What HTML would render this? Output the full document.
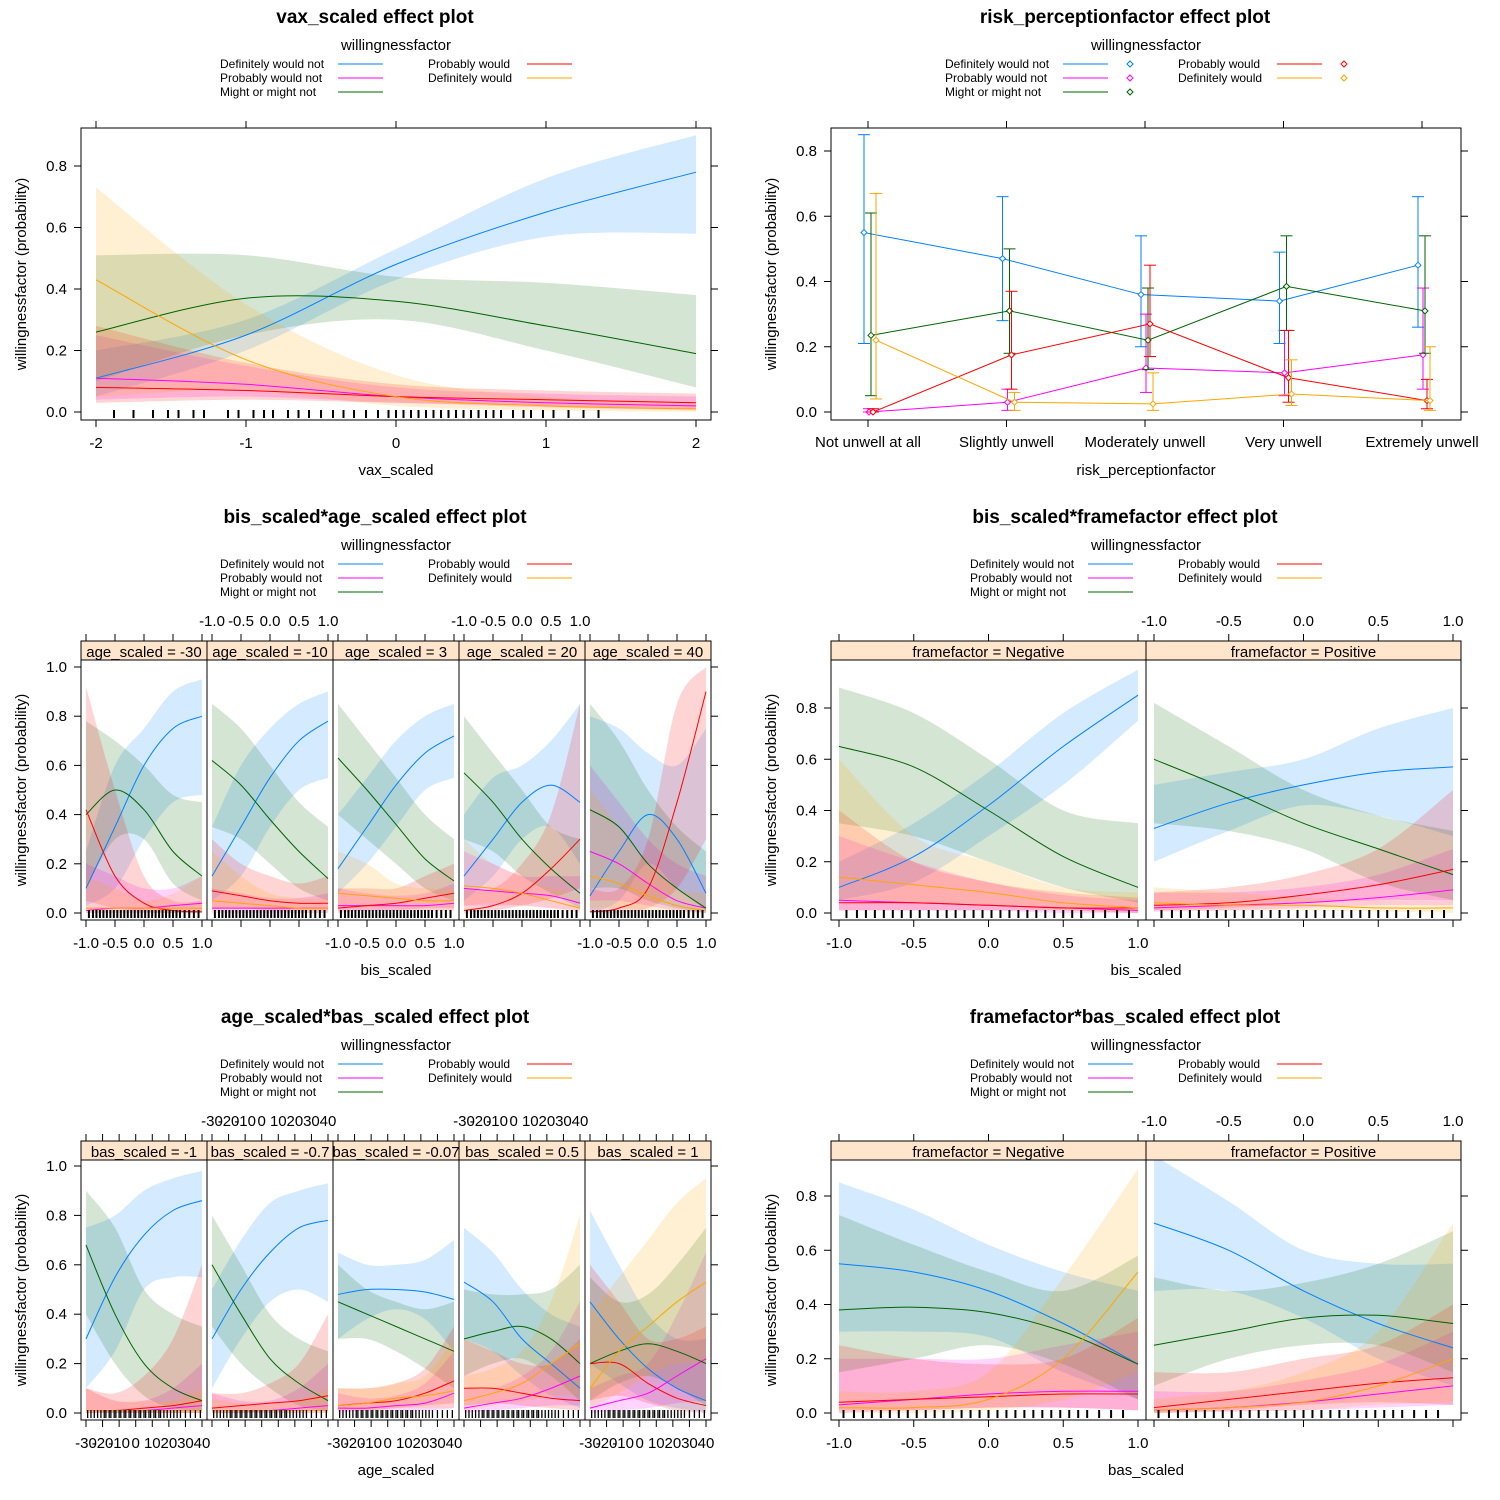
<!DOCTYPE html>
<html><head><meta charset="utf-8"><style>
html,body{margin:0;padding:0;background:#fff}
svg{display:block;font-family:"Liberation Sans",Arial,sans-serif}
</style></head><body>
<svg id="c" width="1500" height="1500" xmlns="http://www.w3.org/2000/svg"></svg>
<script>
const seriesNames=['Definitely would not','Probably would not','Might or might not','Probably would','Definitely would'];
const seriesColors=['#0080ff','#ff00ff','#006400','#ff0000','#ffa500'];

const vaxSamples=[-2,-1,0,1,2];
const vaxFit=[[.11,.25,.48,.65,.78],[.11,.09,.05,.03,.02],[.26,.37,.36,.28,.19],[.08,.07,.05,.04,.03],[.43,.17,.05,.02,.01]];
const vaxLo=[[.05,.2,.43,.57,.58],[.04,.05,.03,.015,.005],[.1,.25,.3,.2,.08],[.03,.04,.03,.02,.01],[.05,.07,.02,.005,0]];
const vaxHi=[[.2,.3,.53,.76,.9],[.25,.15,.08,.06,.05],[.51,.51,.44,.42,.38],[.28,.16,.09,.07,.06],[.73,.35,.12,.05,.03]];
const vaxRug=[-1.88,-1.75,-1.62,-1.52,-1.45,-1.35,-1.28,-1.12,-1.05,-.95,-.88,-.82,-.72,-.65,-.58,-.5,-.42,-.35,-.28,-.2,-.12,-.05,0,.05,.1,.15,.2,.25,.3,.35,.4,.45,.5,.55,.6,.65,.7,.78,.85,.9,.98,1.05,1.15,1.25,1.35];

const riskCats=['Not unwell at all','Slightly unwell','Moderately unwell','Very unwell','Extremely unwell'];
const riskFit=[[.55,.47,.36,.34,.45],[0,.03,.135,.12,.175],[.235,.31,.22,.385,.31],[0,.175,.27,.105,.035],[.22,.03,.025,.055,.035]];
const riskLo=[[.21,.28,.2,.21,.26],[0,.005,.06,.05,.07],[.05,.18,.13,.25,.18],[0,.07,.17,.03,.01],[.04,.005,.005,.02,.005]];
const riskHi=[[.85,.66,.54,.49,.66],[.01,.07,.3,.25,.38],[.61,.5,.38,.54,.54],[.01,.37,.45,.25,.1],[.67,.06,.12,.16,.2]];

const bisSamples=[-1,-.5,0,.5,1];
const bisRug=[-.95,-.88,-.82,-.76,-.7,-.64,-.58,-.52,-.46,-.4,-.34,-.28,-.22,-.16,-.1,-.04,.02,.08,.14,.2,.26,.32,.38,.44,.5,.56,.62,.7,.78,.86,.94];
const ageStrips=['age_scaled = -30','age_scaled = -10','age_scaled = 3','age_scaled = 20','age_scaled = 40'];
const ba1Fit=[[.1,.35,.6,.75,.8],[.01,.02,.02,.03,.04],[.4,.5,.42,.25,.15],[.42,.15,.04,.01,.005],[.02,.02,.02,.02,.02]];
const ba1Lo=[[.03,.1,.3,.45,.48],[0,0,0,0,0],[.1,.3,.3,.12,.05],[.05,.02,.005,0,0],[0,0,0,0,0]];
const ba1Hi=[[.25,.6,.75,.9,.95],[.2,.15,.1,.1,.15],[.78,.7,.6,.48,.45],[.92,.5,.15,.05,.05],[.15,.1,.05,.08,.15]];
const ba2Fit=[[.15,.35,.55,.7,.78],[.02,.02,.02,.02,.02],[.62,.52,.38,.25,.14],[.09,.07,.05,.04,.04],[.05,.04,.03,.02,.02]];
const ba2Lo=[[.05,.15,.35,.5,.55],[0,0,0,0,0],[.35,.3,.2,.1,.05],[.02,.02,.01,.01,.01],[.01,.01,.01,0,0]];
const ba2Hi=[[.35,.6,.75,.85,.9],[.1,.08,.06,.06,.08],[.85,.75,.6,.45,.35],[.3,.2,.15,.12,.15],[.25,.15,.08,.06,.06]];
const ba3Fit=[[.18,.35,.52,.65,.72],[.03,.03,.03,.03,.04],[.63,.5,.36,.22,.13],[.02,.03,.04,.06,.08],[.08,.07,.06,.05,.05]];
const ba3Lo=[[.08,.2,.35,.5,.55],[.01,.01,.01,.01,.01],[.4,.3,.2,.1,.05],[0,.01,.01,.02,.02],[.02,.02,.02,.01,.01]];
const ba3Hi=[[.4,.55,.7,.8,.85],[.1,.08,.07,.08,.12],[.85,.7,.55,.4,.3],[.1,.1,.1,.15,.2],[.25,.2,.12,.1,.1]];
const ba4Fit=[[.15,.3,.45,.52,.45],[.1,.09,.08,.07,.04],[.57,.45,.3,.18,.08],[.01,.03,.08,.18,.3],[.11,.1,.08,.05,.02]];
const ba4Lo=[[.05,.15,.3,.35,.2],[.03,.03,.03,.02,.01],[.3,.25,.15,.08,.02],[0,.01,.03,.06,.1],[.03,.04,.03,.02,0]];
const ba4Hi=[[.4,.55,.6,.7,.85],[.25,.2,.15,.15,.15],[.8,.65,.5,.35,.3],[.1,.1,.2,.4,.85],[.3,.2,.15,.1,.08]];
const ba5Fit=[[.07,.25,.4,.3,.08],[.25,.2,.12,.05,.02],[.42,.35,.2,.1,.02],[.005,.02,.1,.45,.9],[.15,.12,.07,.03,.01]];
const ba5Lo=[[0,.05,.2,.1,.01],[.05,.05,.03,.01,0],[.1,.1,.05,.02,0],[0,0,.02,.1,.3],[.02,.02,.01,0,0]];
const ba5Hi=[[.8,.75,.65,.6,.75],[.6,.45,.3,.2,.15],[.85,.7,.5,.35,.25],[.1,.1,.3,.85,1],[.5,.35,.2,.1,.08]];

const frameStrips=['framefactor = Negative','framefactor = Positive'];
const bfNegFit=[[.1,.22,.42,.65,.85],[.05,.04,.03,.02,.01],[.65,.57,.4,.22,.1],[.04,.04,.03,.02,.02],[.14,.11,.08,.04,.02]];
const bfNegLo=[[.05,.12,.3,.5,.75],[.01,.01,.01,0,0],[.35,.3,.2,.1,.04],[.01,.01,.01,.01,0],[.05,.04,.03,.01,0]];
const bfNegHi=[[.2,.35,.55,.78,.95],[.3,.2,.12,.07,.05],[.88,.78,.6,.4,.35],[.4,.2,.12,.08,.06],[.6,.3,.2,.1,.08]];
const bfPosFit=[[.33,.43,.5,.55,.57],[.02,.03,.04,.06,.09],[.6,.48,.35,.25,.15],[.03,.04,.07,.11,.17],[.04,.03,.03,.02,.02]];
const bfPosLo=[[.2,.32,.42,.38,.3],[.005,.01,.02,.03,.03],[.35,.32,.25,.12,.05],[.01,.02,.04,.05,.05],[.01,.01,.01,.005,0]];
const bfPosHi=[[.5,.55,.6,.72,.8],[.08,.08,.1,.15,.25],[.82,.65,.48,.38,.32],[.08,.1,.15,.25,.48],[.1,.08,.06,.05,.05]];

const ageSamples=[-30,-12.5,5,22.5,40];
const ageTicks=[-30,-20,-10,0,10,20,30,40];
const ageRug=[-29,-27,-25,-23,-21,-19,-18,-16,-15,-13,-12,-10,-9,-7,-6,-4,-3,-1,0,2,3,5,6,8,9,11,12,14,15,17,19,21,23,25,27,30,33,36,39];
const basStrips=['bas_scaled = -1','bas_scaled = -0.7','bas_scaled = -0.07','bas_scaled = 0.5','bas_scaled = 1'];
const ab1Fit=[[.3,.55,.72,.82,.86],[.01,.01,.01,.02,.03],[.68,.4,.2,.1,.05],[.01,.01,.02,.03,.05],[.01,.01,.01,.01,.01]];
const ab1Lo=[[.1,.25,.5,.55,.55],[0,0,0,0,0],[.4,.2,.07,.02,.01],[0,0,0,0,0],[0,0,0,0,0]];
const ab1Hi=[[.75,.8,.9,.95,.98],[.1,.05,.05,.1,.2],[.9,.75,.5,.4,.35],[.1,.08,.15,.3,.6],[.1,.05,.05,.05,.1]];
const ab2Fit=[[.3,.5,.65,.75,.78],[.01,.01,.01,.02,.03],[.6,.4,.22,.12,.05],[.02,.03,.04,.05,.07],[.01,.01,.01,.01,.01]];
const ab2Lo=[[.1,.3,.45,.5,.45],[0,0,0,0,0],[.35,.2,.1,.03,.01],[0,0,.01,.01,.01],[0,0,0,0,0]];
const ab2Hi=[[.5,.7,.85,.9,.93],[.08,.05,.05,.1,.2],[.8,.6,.4,.3,.25],[.08,.08,.12,.2,.4],[.06,.04,.04,.05,.1]];
const ab3Fit=[[.48,.5,.5,.49,.46],[.02,.02,.03,.04,.08],[.45,.4,.35,.3,.25],[.03,.04,.05,.08,.13],[.03,.04,.06,.07,.09]];
const ab3Lo=[[.3,.38,.42,.38,.25],[0,.01,.01,.01,.02],[.3,.3,.25,.18,.1],[.01,.01,.02,.03,.04],[.01,.01,.02,.02,.02]];
const ab3Hi=[[.65,.6,.6,.62,.7],[.08,.06,.07,.12,.25],[.6,.5,.45,.42,.45],[.1,.1,.12,.18,.35],[.1,.1,.12,.15,.3]];
const ab4Fit=[[.53,.45,.3,.2,.1],[.02,.04,.06,.1,.15],[.3,.33,.35,.3,.2],[.1,.1,.08,.06,.05],[.05,.08,.12,.2,.28]];
const ab4Lo=[[.3,.25,.15,.07,.02],[0,.01,.02,.03,.03],[.15,.2,.22,.15,.05],[.03,.04,.03,.02,.01],[.01,.03,.05,.07,.07]];
const ab4Hi=[[.75,.65,.5,.4,.35],[.1,.1,.15,.25,.45],[.5,.48,.48,.5,.6],[.3,.25,.2,.2,.3],[.15,.18,.25,.45,.8]];
const ab5Fit=[[.45,.3,.18,.1,.05],[.02,.05,.08,.15,.22],[.2,.25,.28,.25,.2],[.2,.2,.12,.06,.03],[.1,.25,.35,.45,.53]];
const ab5Lo=[[.2,.12,.05,.02,.005],[0,.01,.02,.04,.05],[.05,.12,.15,.1,.03],[.05,.07,.04,.01,0],[.02,.08,.15,.2,.2]];
const ab5Hi=[[.82,.6,.4,.3,.3],[.1,.15,.2,.4,.65],[.55,.45,.48,.6,.75],[.6,.45,.3,.3,.35],[.4,.55,.7,.85,.95]];

const basRug=[-.97,-.9,-.84,-.78,-.72,-.66,-.6,-.54,-.48,-.42,-.36,-.3,-.24,-.18,-.12,-.06,0,.06,.12,.18,.24,.3,.36,.42,.48,.54,.6,.66,.74,.82,.9];
const fbNegFit=[[.55,.52,.45,.33,.18],[.03,.05,.07,.08,.08],[.38,.39,.37,.3,.18],[.04,.05,.06,.07,.07],[.02,.02,.05,.2,.52]];
const fbNegLo=[[.3,.3,.28,.15,.05],[0,.01,.02,.02,.01],[.15,.2,.25,.18,.05],[.01,.01,.02,.02,.01],[0,0,.01,.05,.15]];
const fbNegHi=[[.85,.75,.62,.52,.45],[.2,.2,.2,.25,.3],[.73,.62,.52,.45,.58],[.25,.2,.18,.2,.35],[.08,.08,.15,.5,.9]];
const fbPosFit=[[.7,.6,.45,.33,.24],[.01,.02,.04,.07,.1],[.25,.3,.35,.36,.33],[.02,.05,.08,.11,.13],[.01,.02,.04,.1,.2]];
const fbPosLo=[[.45,.45,.35,.2,.1],[0,.005,.01,.02,.03],[.1,.2,.25,.25,.15],[0,.01,.03,.04,.03],[0,.005,.01,.03,.04]];
const fbPosHi=[[.95,.78,.6,.55,.55],[.08,.08,.12,.18,.3],[.5,.45,.48,.55,.67],[.15,.15,.2,.25,.4],[.05,.08,.15,.3,.7]];

const unitTicks=[-1,-.5,0,.5,1];
const unitTickLabels=['-1.0','-0.5','0.0','0.5','1.0'];
const yTicks8=[0,.2,.4,.6,.8];
const yTicks10=[0,.2,.4,.6,.8,1];

const NS='http://www.w3.org/2000/svg';
const svg=document.getElementById('c');
let clipId=0;
function el(tag,attrs,parent,name){
  const e=document.createElementNS(NS,tag);
  for(const k in attrs)e.setAttribute(k,attrs[k]);
  
  
  (parent||svg).appendChild(e);return e;
}
function txt(x,y,s,size,anchor,parent,name,extra){
  const t=el('text',Object.assign({x:x,y:y,'font-size':size,'text-anchor':anchor||'middle',fill:'#000'},extra||{}),parent,name);
  t.textContent=s;return t;
}
function curve(p){
  let d='M'+p[0][0].toFixed(1)+','+p[0][1].toFixed(1);
  for(let i=0;i<p.length-1;i++){
    const p0=p[i-1]||p[i],p1=p[i],p2=p[i+1],p3=p[i+2]||p2;
    const c1=[p1[0]+(p2[0]-p0[0])/6,p1[1]+(p2[1]-p0[1])/6];
    const c2=[p2[0]-(p3[0]-p1[0])/6,p2[1]-(p3[1]-p1[1])/6];
    d+='C'+c1[0].toFixed(1)+','+c1[1].toFixed(1)+' '+c2[0].toFixed(1)+','+c2[1].toFixed(1)+' '+p2[0].toFixed(1)+','+p2[1].toFixed(1);
  }
  return d;
}
function lin(d0,d1,r0,r1){return v=>r0+(v-d0)/(d1-d0)*(r1-r0);}

// cx = plot-title centre; mx = plot-box centre
function legend(cx,mx,top,withPts,c1off,g){
  txt(mx,top+25,'willingnessfactor',15,'middle',g,'legend-title');
  const cols=[[0,1,2],[3,4]];
  cols.forEach((rows,ci)=>{
    const tx=cx+(ci===0?c1off:53);
    const lx=tx+(ci===0?118:99);
    rows.forEach((si,ri)=>{
      const y=top+39+ri*14;
      txt(tx,y+4,seriesNames[si],12,'start',g,'legend-label');
      el('line',{x1:lx,x2:lx+45,y1:y,y2:y,stroke:seriesColors[si],'stroke-width':1},g,'legend-line');
      if(withPts){
        el('path',{d:`M${lx+67},${y-3}l3,3l-3,3l-3,-3z`,fill:'none',stroke:seriesColors[si],'stroke-width':1},g,'legend-marker');
      }
    });
  });
}

function yAxis(g,L,R,Y,ticks){
  ticks.forEach(v=>{
    el('line',{x1:L-7,x2:L,y1:Y(v),y2:Y(v),stroke:'#000'},g,'y-tick');
    el('line',{x1:R,x2:R+7,y1:Y(v),y2:Y(v),stroke:'#000'},g,'y-tick-right');
    txt(L-14,Y(v)+5,v.toFixed(1),15,'end',g,'y-tick-label');
  });
}

function facetPlot(o){
  const g=el('g',{},svg,o.name);
  const mx=(o.L+o.R)/2;
  txt(o.cx,o.oy+23,o.title,19,'middle',g,'plot-title',{'font-weight':'bold'});
  legend(o.cx,mx,o.oy+25,false,-155,g);
  const n=o.panels.length, pw=(o.R-o.L)/n;
  const Y=lin(0,o.yv1,o.y0px,o.y1px);
  yAxis(g,o.L,o.R,Y,o.yticks);
  txt(0,0,'willingnessfactor (probability)',15,'middle',g,'y-axis-title',{transform:`translate(${o.L-55},${(o.dataTop+o.boxBottom)/2}) rotate(-90)`});
  txt(mx,o.oy+475,o.xtitle,15,'middle',g,'x-axis-title');
  o.panels.forEach((p,i)=>{
    const pl=o.L+i*pw, pr=pl+pw;
    const X=lin(o.xdom[0],o.xdom[1],pl+o.pad,pr-o.pad);
    const pg=el('g',{},g,'panel-'+(i+1));
    const cid='clip'+(clipId++);
    const cp=el('clipPath',{id:cid},pg,'panel-clip');
    el('rect',{x:pl,y:o.dataTop,width:pw,height:o.boxBottom-o.dataTop},cp,'clip-rect');
    const dg=el('g',{'clip-path':`url(#${cid})`},pg,'panel-data');
    for(let s=0;s<5;s++){
      const up=o.samples.map((x,k)=>[X(x),Y(p.hi[s][k])]);
      const lo=o.samples.map((x,k)=>[X(x),Y(p.lo[s][k])]).reverse();
      const d=curve(up)+'L'+curve(lo).slice(1)+'Z';
      el('path',{d:d,fill:seriesColors[s],'fill-opacity':0.17,stroke:'none'},dg,'ci-band');
    }
    for(let s=0;s<5;s++){
      const pts=o.samples.map((x,k)=>[X(x),Y(p.fit[s][k])]);
      el('path',{d:curve(pts),fill:'none',stroke:seriesColors[s],'stroke-width':1},dg,'fit-line');
    }
    o.rug.forEach(r=>{
      el('line',{x1:X(r),x2:X(r),y1:o.boxBottom-10,y2:o.boxBottom-2,stroke:'#000','stroke-width':o.rugW||2},dg,'rug-mark');
    });
    if(p.strip){
      el('rect',{x:pl,y:o.boxTop,width:pw,height:o.dataTop-o.boxTop,fill:'#ffe5cc',stroke:'#000'},pg,'strip');
      const sc='clip'+(clipId++);
      const scp=el('clipPath',{id:sc},pg,'strip-clip');
      el('rect',{x:pl,y:o.boxTop,width:pw,height:o.dataTop-o.boxTop},scp,'strip-clip-rect');
      txt((pl+pr)/2,o.boxTop+16,p.strip,15,'middle',pg,'strip-label',{'clip-path':`url(#${sc})`});
    }
    el('rect',{x:pl,y:o.dataTop,width:pw,height:o.boxBottom-o.dataTop,fill:'none',stroke:'#000'},pg,'panel-border');
    o.xticks.forEach((v,k)=>{
      el('line',{x1:X(v),x2:X(v),y1:o.boxBottom,y2:o.boxBottom+7,stroke:'#000'},pg,'x-tick');
      el('line',{x1:X(v),x2:X(v),y1:o.boxTop-7,y2:o.boxTop,stroke:'#000'},pg,'x-tick-top');
      if(i%2===0) txt(X(v),o.boxBottom+28,o.xlabels[k],15,'middle',pg,'x-tick-label');
      else if(o.topLabels) txt(X(v),o.boxTop-15,o.xlabels[k],15,'middle',pg,'x-tick-label-top');
    });
  });
}

facetPlot({name:'vax-effect-plot',cx:375,oy:0,title:'vax_scaled effect plot',L:81,R:711,boxTop:128,dataTop:128,boxBottom:420,
  y0px:412,y1px:166,yv1:.8,yticks:yTicks8,xdom:[-2,2],pad:15,samples:vaxSamples,xticks:[-2,-1,0,1,2],xlabels:['-2','-1','0','1','2'],
  rug:vaxRug,xtitle:'vax_scaled',topLabels:false,panels:[{fit:vaxFit,lo:vaxLo,hi:vaxHi}]});

(function(){
  const g=el('g',{},svg,'risk-perception-effect-plot');
  const cx=1125,L=831,R=1461,T=128,B=420,mx=1146;
  txt(cx,23,'risk_perceptionfactor effect plot',19,'middle',g,'plot-title',{'font-weight':'bold'});
  legend(cx,mx,25,true,-180,g);
  const Y=lin(0,.8,412,151);
  const X=i=>868+i*138.5;
  const offs=[-4,1,3,5,8];
  el('rect',{x:L,y:T,width:R-L,height:B-T,fill:'none',stroke:'#000'},g,'plot-border');
  yAxis(g,L,R,Y,yTicks8);
  txt(0,0,'willingnessfactor (probability)',15,'middle',g,'y-axis-title',{transform:`translate(${L-55},274) rotate(-90)`});
  riskCats.forEach((c,i)=>{
    el('line',{x1:X(i),x2:X(i),y1:B,y2:B+7,stroke:'#000'},g,'x-tick');
    el('line',{x1:X(i),x2:X(i),y1:T-7,y2:T,stroke:'#000'},g,'x-tick-top');
    txt(X(i),447,c,15,'middle',g,'x-tick-label');
  });
  txt(mx,475,'risk_perceptionfactor',15,'middle',g,'x-axis-title');
  for(let s=0;s<5;s++){
    const col=seriesColors[s];
    const pts=riskFit[s].map((v,i)=>[X(i)+offs[s],Y(v)]);
    el('polyline',{points:pts.map(p=>p.join(',')).join(' '),fill:'none',stroke:col},g,'series-line');
    riskFit[s].forEach((v,i)=>{
      const x=X(i)+offs[s];
      el('line',{x1:x,x2:x,y1:Y(riskLo[s][i]),y2:Y(riskHi[s][i]),stroke:col},g,'error-bar');
      el('line',{x1:x-6,x2:x+6,y1:Y(riskLo[s][i]),y2:Y(riskLo[s][i]),stroke:col},g,'error-cap');
      el('line',{x1:x-6,x2:x+6,y1:Y(riskHi[s][i]),y2:Y(riskHi[s][i]),stroke:col},g,'error-cap');
      el('path',{d:`M${x},${Y(v)-3}l3,3l-3,3l-3,-3z`,fill:'#fff',stroke:col},g,'point');
    });
  }
})();

facetPlot({name:'bis-age-effect-plot',cx:375,oy:500,title:'bis_scaled*age_scaled effect plot',L:81,R:711,boxTop:641,dataTop:660,boxBottom:920,
  y0px:913,y1px:667,yv1:1,yticks:yTicks10,xdom:[-1,1],pad:5,samples:bisSamples,xticks:unitTicks,xlabels:unitTickLabels,
  rug:bisRug,xtitle:'bis_scaled',topLabels:true,panels:[
   {fit:ba1Fit,lo:ba1Lo,hi:ba1Hi,strip:ageStrips[0]},{fit:ba2Fit,lo:ba2Lo,hi:ba2Hi,strip:ageStrips[1]},
   {fit:ba3Fit,lo:ba3Lo,hi:ba3Hi,strip:ageStrips[2]},{fit:ba4Fit,lo:ba4Lo,hi:ba4Hi,strip:ageStrips[3]},
   {fit:ba5Fit,lo:ba5Lo,hi:ba5Hi,strip:ageStrips[4]}]});

facetPlot({name:'bis-frame-effect-plot',cx:1125,oy:500,title:'bis_scaled*framefactor effect plot',L:831,R:1461,boxTop:641,dataTop:660,boxBottom:920,
  y0px:913,y1px:708,yv1:.8,yticks:yTicks8,xdom:[-1,1],pad:8,samples:bisSamples,xticks:unitTicks,xlabels:unitTickLabels,
  rug:bisRug,xtitle:'bis_scaled',topLabels:true,panels:[
   {fit:bfNegFit,lo:bfNegLo,hi:bfNegHi,strip:frameStrips[0]},{fit:bfPosFit,lo:bfPosLo,hi:bfPosHi,strip:frameStrips[1]}]});

facetPlot({name:'age-bas-effect-plot',cx:375,oy:1000,title:'age_scaled*bas_scaled effect plot',L:81,R:711,boxTop:1141,dataTop:1160,boxBottom:1420,
  y0px:1413,y1px:1166,yv1:1,yticks:yTicks10,xdom:[-30,40],pad:5,samples:ageSamples,xticks:ageTicks,xlabels:ageTicks.map(String),
  rug:ageRug,rugW:1.3,xtitle:'age_scaled',topLabels:true,panels:[
   {fit:ab1Fit,lo:ab1Lo,hi:ab1Hi,strip:basStrips[0]},{fit:ab2Fit,lo:ab2Lo,hi:ab2Hi,strip:basStrips[1]},
   {fit:ab3Fit,lo:ab3Lo,hi:ab3Hi,strip:basStrips[2]},{fit:ab4Fit,lo:ab4Lo,hi:ab4Hi,strip:basStrips[3]},
   {fit:ab5Fit,lo:ab5Lo,hi:ab5Hi,strip:basStrips[4]}]});

facetPlot({name:'frame-bas-effect-plot',cx:1125,oy:1000,title:'framefactor*bas_scaled effect plot',L:831,R:1461,boxTop:1141,dataTop:1160,boxBottom:1420,
  y0px:1413,y1px:1196,yv1:.8,yticks:yTicks8,xdom:[-1,1],pad:8,samples:bisSamples,xticks:unitTicks,xlabels:unitTickLabels,
  rug:basRug,xtitle:'bas_scaled',topLabels:true,panels:[
   {fit:fbNegFit,lo:fbNegLo,hi:fbNegHi,strip:frameStrips[0]},{fit:fbPosFit,lo:fbPosLo,hi:fbPosHi,strip:frameStrips[1]}]});
</script>
</body></html>
